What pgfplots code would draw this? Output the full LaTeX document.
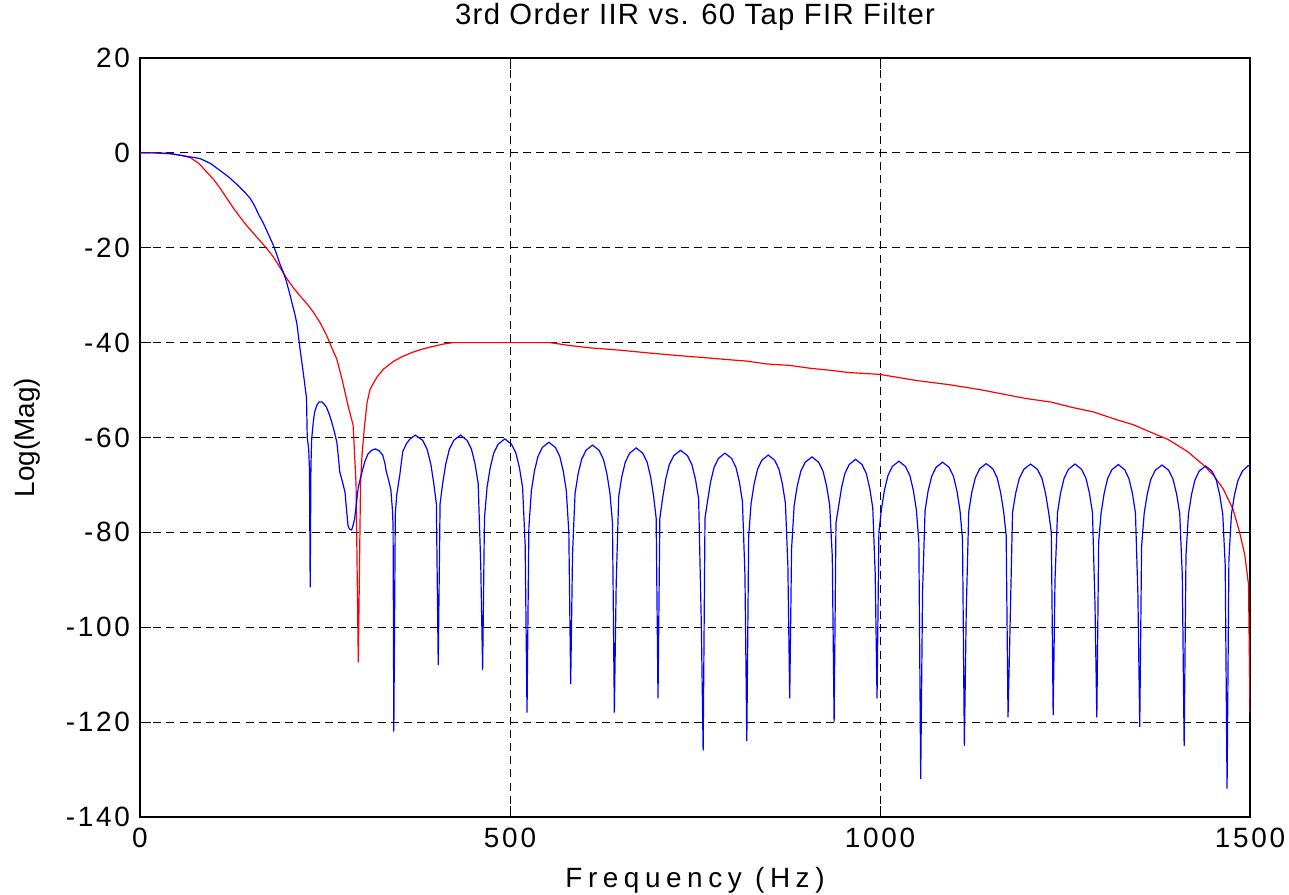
\documentclass[border=0pt]{standalone}
\usepackage{fontspec}
\setmainfont{Liberation Sans}
\newfontfamily\titlefont[LetterSpace=4.5]{Liberation Sans}
\newfontfamily\labelfont[LetterSpace=20]{Liberation Sans}
\newfontfamily\tickfont[LetterSpace=10]{Liberation Sans}
\usepackage{pgfplots}
\pgfplotsset{compat=1.18}
\begin{document}
\begin{tikzpicture}
\path[use as bounding box] (-70bp,-39bp) rectangle (574.5bp,408.5bp);
\begin{axis}[
  at={(0,0)}, anchor=south west,
  scale only axis, width=555bp, height=379.5bp,
  xmin=0, xmax=1500, ymin=-140, ymax=20,
  xtick={0,500,1000,1500}, xticklabels={0,500,1000,1500},
  ytick={-140,-120,-100,-80,-60,-40,-20,0,20},
  yticklabels={-140,-120,-100,-80,-60,-40,-20,0,20},
  tick align=inside, major tick length=5.5bp,
  tick style={black, line width=0.5pt},
  axis line style={black, line width=0.7pt},
  grid=major,
  major grid style={black, line width=0.45pt, dash pattern=on 4bp off 2.6bp},
  ticklabel style={font=\tickfont\fontsize{14}{16}\selectfont},
  xticklabel style={yshift=-2pt},
  yticklabel style={xshift=-1.5pt},
  title={\titlefont\fontsize{14.7}{17}\selectfont 3rd Order IIR vs. 60 Tap FIR Filter},
  title style={at={(axis description cs:0.5,1.029)}, anchor=base, inner sep=0pt},
  xlabel={\labelfont\fontsize{14}{16}\selectfont Frequency (Hz)},
  xlabel style={at={(axis description cs:0.5,-0.0935)}, anchor=base, inner sep=0pt},
  ylabel={\fontsize{14}{16}\selectfont Log(Mag)},
  ylabel style={at={(axis description cs:-0.0946,0.5)}, anchor=base, rotate=0, inner sep=0pt},
]
\addplot[draw={rgb,255:red,255;green,0;blue,0}, line width=0.6pt] table {
x y
0 0
20 0
40 -0.2
55 -0.5
68 -1
80 -2.3
90 -4
100 -5.7
108 -7.4
117 -9.5
126 -11.6
135 -13.5
144 -15.3
153 -16.9
162 -18.5
171 -20.1
180 -21.9
189 -24.1
198 -26.4
207 -28.4
216 -30.1
225 -31.7
234 -33.5
243 -35.7
252 -38.4
257 -40.3
266 -43.5
273 -47.7
281 -53.2
288 -57.4
290 -63.5
292 -70
295 -107.4
298 -70
300 -63.7
303 -58.2
307 -52.5
311 -49.8
320 -47.3
329 -45.6
342 -44
355 -42.9
369 -42
383 -41.3
396 -40.8
410 -40.3
423 -40
554 -40
580 -40.6
608 -41.1
649 -41.6
689 -42.2
725 -42.7
757 -43.1
788 -43.5
820 -43.9
847 -44.5
878 -44.8
905 -45.4
937 -45.9
957 -46.3
1000 -46.7
1050 -48
1095 -48.9
1135 -49.9
1171 -51
1198 -51.8
1230 -52.5
1261 -53.7
1288 -54.6
1315 -56
1342 -57.3
1369 -59.1
1389 -60.4
1415 -62.9
1437 -65.8
1451 -68
1464 -70.9
1477 -75.1
1486 -80
1493 -84.8
1498 -91
1500 -118
};
\addplot[draw={rgb,255:red,0;green,0;blue,255}, line width=0.6pt] table {
x y
0 0
20 0
40 -0.1
58 -0.6
70 -0.9
81 -1.2
95 -2.2
108 -3.7
120 -5.1
132 -6.8
141 -8.2
149 -9.6
155 -11.2
160 -12.9
166 -14.6
171 -16.3
176 -18
180 -19.4
185 -21.5
189 -23.4
194 -25.3
198 -27.2
202 -29.5
205 -31.4
209 -33.8
212 -36
214 -38.5
216 -41
218 -43.3
220 -45.6
222 -48
224 -50.5
225 -51.5
226 -60
228 -62.5
229 -66.7
230 -91.6
231 -66
232 -60.3
234 -57
236 -54.6
239 -53.2
242 -52.5
246 -52.5
249 -53
252 -53.6
256 -55.2
259 -56.7
263 -59
266 -61
268 -64
270 -67.3
273 -69
277 -71.5
279 -75
281 -78.5
283 -79.3
286 -79.5
288 -78.5
290 -77.2
292 -74.5
295 -70.5
298 -68.5
301 -66.7
304 -65
308 -63.5
313 -62.7
318 -62.4
323 -62.8
328 -63.7
331 -65.5
333 -67.3
336 -69
339 -71
341 -75
342 -78.5
343 -122
345 -76
347 -72
349 -70
351 -68
353 -65.5
355 -63
360 -61.3
365 -60.3
372 -59.5
382 -60.6
388 -62.5
393 -65.6
397 -69.7
400.5 -74
403 -108
405.5 -74
409 -69.7
413.2 -65.6
418 -62.5
424 -60.6
433 -59.5
442 -60.6
448 -62.5
452.8 -65.6
457 -69.7
460.5 -87
463 -109
465.5 -77
469 -70.5
473.2 -66.4
478 -63.3
484 -61.4
493 -60.3
502 -61.4
508 -63.3
512.8 -66.4
517 -70.5
520.5 -82.7
523 -118
525.5 -79
528.9 -71.2
533 -67.1
537.8 -64
543.7 -62.1
552.5 -61
561.4 -62.1
567.3 -64
572 -67.1
576.1 -71.2
579.5 -80
582 -112
584.5 -84.6
587.9 -71.8
592 -67.7
596.8 -64.6
602.7 -62.7
611.5 -61.6
620.4 -62.7
626.3 -64.6
631 -67.7
635.1 -71.8
638.5 -78
641 -118
643.5 -91
646.9 -72.4
651 -68.3
655.8 -65.2
661.7 -63.3
670.5 -62.2
679.4 -63.3
685.3 -65.2
690 -68.3
694.1 -72.4
697.5 -77
700 -115
702.5 -77
706.1 -72.9
710.4 -68.8
715.3 -65.7
721.4 -63.8
730.5 -62.7
739.7 -63.8
745.8 -65.7
750.6 -68.8
754.9 -72.9
758.5 -99
761 -126
763.5 -77
766.9 -73.5
771 -69.4
775.8 -66.3
781.7 -64.4
790.5 -63.3
799.4 -64.4
805.3 -66.3
810 -69.4
814.1 -73.5
817.5 -89
820 -124
822.5 -81
825.8 -73.9
829.9 -69.8
834.5 -66.7
840.3 -64.8
849 -63.7
857.7 -64.8
863.5 -66.7
868.1 -69.8
872.2 -73.9
875.5 -87
878 -115
880.5 -83.5
884 -74.3
888.2 -70.2
893 -67.1
899 -65.2
908 -64.1
917 -65.2
923 -67.1
927.8 -70.2
932 -74.3
935.5 -85
938 -120
940.5 -78
943.8 -74.8
947.9 -70.7
952.5 -67.6
958.3 -65.7
967 -64.6
975.7 -65.7
981.5 -67.6
986.1 -70.7
990.2 -74.8
993.5 -88.7
996 -115
998.5 -80
1001.9 -75.2
1006 -71.1
1010.8 -68
1016.7 -66.1
1025.5 -65
1034.4 -66.1
1040.3 -68
1045 -71.1
1049.1 -75.2
1052.5 -82
1055 -132
1057.5 -92.6
1060.9 -75.4
1065 -71.3
1069.8 -68.2
1075.7 -66.3
1084.5 -65.2
1093.4 -66.3
1099.3 -68.2
1104 -71.3
1108.1 -75.4
1111.5 -81.4
1114 -125
1116.5 -97
1119.9 -75.7
1124 -71.6
1128.8 -68.5
1134.7 -66.6
1143.5 -65.5
1152.4 -66.6
1158.3 -68.5
1163 -71.6
1167.1 -75.7
1170.5 -80.6
1173 -119
1175.5 -101.7
1179.1 -75.8
1183.4 -71.7
1188.3 -68.6
1194.4 -66.7
1203.5 -65.6
1212.7 -66.7
1218.8 -68.6
1223.6 -71.7
1227.9 -75.8
1231.5 -80
1234 -118.5
1236.5 -90
1239.9 -75.8
1244 -71.7
1248.8 -68.6
1254.7 -66.7
1263.5 -65.6
1272.4 -66.7
1278.3 -68.6
1283 -71.7
1287.1 -75.8
1290.5 -95
1293 -119
1295.5 -82
1298.8 -75.9
1302.9 -71.8
1307.5 -68.7
1313.3 -66.8
1322 -65.7
1330.7 -66.8
1336.5 -68.7
1341.1 -71.8
1345.2 -75.9
1348.5 -93
1351 -121
1353.5 -83
1357 -76
1361.2 -71.9
1366 -68.8
1372 -66.9
1381 -65.8
1390 -66.9
1396 -68.8
1400.8 -71.9
1405 -76
1408.5 -89
1411 -125
1413.5 -84.8
1416.8 -76.2
1420.9 -72.1
1425.5 -69
1431.3 -67.1
1440 -66
1448.7 -67.1
1454.5 -69
1459.1 -72.1
1463.2 -76.2
1466.5 -87
1469 -134
1471.5 -85.6
1474.9 -76.2
1479 -72.1
1483.8 -69
1489.7 -67.1
1497 -66
1500 -65.9
};
\end{axis}
\end{tikzpicture}
\end{document}
